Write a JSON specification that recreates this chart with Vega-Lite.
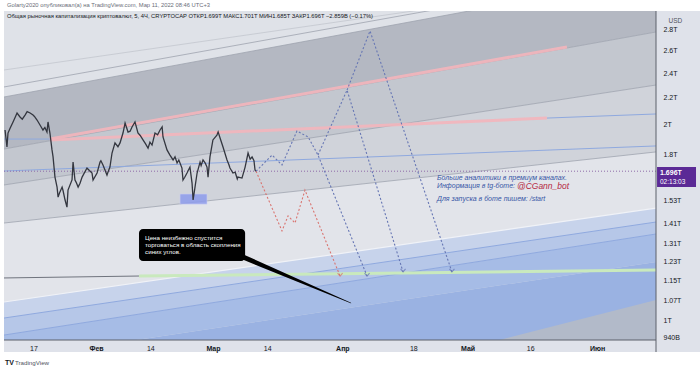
{
"$schema": "https://vega.github.io/schema/vega-lite/v6.json",
"width": 652, "height": 329,
"autosize": {"type": "none"},
"padding": {"left": 4, "top": 11, "right": 44, "bottom": 31},
"background": "#ffffff",
"config": {"view": {"fill": "#dfe2e8", "stroke": null}, "font": "Liberation Sans"},
"resolve": {"axis": {"x": "independent", "y": "independent"}},
"datasets": {
"bands": [
{"band":"D","t":"2022-01-09T23:00:00Z","v":1.835,"v2":2.207},{"band":"D","t":"2022-06-15T03:00:00Z","v":2.780,"v2":3.386},
{"band":"M1","t":"2022-01-09T23:00:00Z","v":1.615,"v2":1.835},{"band":"M1","t":"2022-06-15T03:00:00Z","v":2.303,"v2":2.780},
{"band":"M2","t":"2022-01-09T23:00:00Z","v":1.411,"v2":1.615},{"band":"M2","t":"2022-06-15T03:00:00Z","v":1.816,"v2":2.303},
{"band":"L","t":"2022-01-09T23:00:00Z","v":1.066,"v2":1.411},{"band":"L","t":"2022-06-15T03:00:00Z","v":1.488,"v2":1.816},
{"band":"B1","t":"2022-01-09T23:00:00Z","v":1.007,"v2":1.066},{"band":"B1","t":"2022-06-15T03:00:00Z","v":1.416,"v2":1.488},
{"band":"B2","t":"2022-01-09T23:00:00Z","v":0.948,"v2":1.007},{"band":"B2","t":"2022-06-15T03:00:00Z","v":1.357,"v2":1.416},
{"band":"B3","t":"2022-01-09T23:00:00Z","v":0.868,"v2":0.948},{"band":"B3","t":"2022-06-15T03:00:00Z","v":1.229,"v2":1.357},
{"band":"B4","t":"2022-01-09T23:00:00Z","v":0.8,"v2":0.868},{"band":"B4","t":"2022-06-15T03:00:00Z","v":0.8,"v2":1.229}
],
"br": [
{"t":"2022-05-03T23:00:00Z","v":0.8,"v2":0.915},{"t":"2022-06-15T03:00:00Z","v":0.8,"v2":1.074}
],
"segs": [
{"id":"g0a","kind":"lightgrey","t":"2022-01-09T23:00:00Z","v":2.429},{"id":"g0a","kind":"lightgrey","t":"2022-06-15T03:00:00Z","v":3.391},
{"id":"g0b","kind":"grey","t":"2022-01-09T23:00:00Z","v":2.287},{"id":"g0b","kind":"grey","t":"2022-06-15T03:00:00Z","v":3.464},
{"id":"g0c","kind":"grey","t":"2022-01-09T23:00:00Z","v":2.207},{"id":"g0c","kind":"grey","t":"2022-06-15T03:00:00Z","v":3.386},
{"id":"gT1","kind":"grey","t":"2022-01-09T23:00:00Z","v":1.835},{"id":"gT1","kind":"grey","t":"2022-06-15T03:00:00Z","v":2.780},
{"id":"gT2","kind":"grey","t":"2022-01-09T23:00:00Z","v":1.615},{"id":"gT2","kind":"grey","t":"2022-06-15T03:00:00Z","v":2.303},
{"id":"gU","kind":"grey","t":"2022-01-09T23:00:00Z","v":1.411},{"id":"gU","kind":"grey","t":"2022-06-15T03:00:00Z","v":1.816},
{"id":"wL1","kind":"white","t":"2022-01-09T23:00:00Z","v":1.066},{"id":"wL1","kind":"white","t":"2022-06-15T03:00:00Z","v":1.488},
{"id":"b1","kind":"blue","t":"2022-01-09T23:00:00Z","v":1.901},{"id":"b1","kind":"blue","t":"2022-01-20T23:00:00Z","v":1.901},
{"id":"b2","kind":"blue","t":"2022-01-09T23:00:00Z","v":1.697},{"id":"b2","kind":"blue","t":"2022-06-15T03:00:00Z","v":1.855},
{"id":"b3","kind":"blue","t":"2022-05-20T00:00:00Z","v":2.048},{"id":"b3","kind":"blue","t":"2022-06-15T03:00:00Z","v":2.078},
{"id":"bL2","kind":"blue","t":"2022-01-09T23:00:00Z","v":1.007},{"id":"bL2","kind":"blue","t":"2022-06-15T03:00:00Z","v":1.416},
{"id":"bL3","kind":"blue","t":"2022-01-09T23:00:00Z","v":0.948},{"id":"bL3","kind":"blue","t":"2022-06-15T03:00:00Z","v":1.357},
{"id":"p1","kind":"pink","t":"2022-01-20T23:00:00Z","v":1.901},{"id":"p1","kind":"pink","t":"2022-05-24T19:00:00Z","v":2.636},
{"id":"p2","kind":"pink","t":"2022-01-20T23:00:00Z","v":1.895},{"id":"p2","kind":"pink","t":"2022-05-20T00:00:00Z","v":2.048},
{"id":"gr","kind":"green","t":"2022-02-11T07:00:00Z","v":1.169},{"id":"gr","kind":"green","t":"2022-06-15T03:00:00Z","v":1.194},
{"id":"dk","kind":"dark","t":"2022-01-09T23:00:00Z","v":1.161},{"id":"dk","kind":"dark","t":"2022-02-11T07:00:00Z","v":1.169},
{"id":"ptr","kind":"pointer","t":"2022-03-08T05:00:00Z","v":1.2506},{"id":"ptr","kind":"pointer","t":"2022-04-03T01:00:00Z","v":1.0622}
],
"price": [
{"t":"2022-01-10T05:00:00Z","v":1.963},{"t":"2022-01-10T16:00:00Z","v":1.848},{"t":"2022-01-10T22:00:00Z","v":1.942},
{"t":"2022-01-11T10:00:00Z","v":1.975},{"t":"2022-01-12T03:00:00Z","v":2.020},{"t":"2022-01-12T14:00:00Z","v":2.050},
{"t":"2022-01-13T02:00:00Z","v":2.085},{"t":"2022-01-13T19:00:00Z","v":2.056},{"t":"2022-01-14T08:00:00Z","v":2.040},
{"t":"2022-01-15T00:00:00Z","v":2.070},{"t":"2022-01-15T12:00:00Z","v":2.095},{"t":"2022-01-16T05:00:00Z","v":2.085},
{"t":"2022-01-16T22:00:00Z","v":2.070},{"t":"2022-01-17T06:00:00Z","v":2.060},{"t":"2022-01-17T21:00:00Z","v":2.034},
{"t":"2022-01-18T14:00:00Z","v":1.998},{"t":"2022-01-19T07:00:00Z","v":1.963},{"t":"2022-01-19T18:00:00Z","v":1.980},
{"t":"2022-01-20T06:00:00Z","v":1.949},{"t":"2022-01-20T12:00:00Z","v":2.020},{"t":"2022-01-20T23:00:00Z","v":1.942},
{"t":"2022-01-21T11:00:00Z","v":1.829},{"t":"2022-01-21T17:00:00Z","v":1.784},{"t":"2022-01-22T04:00:00Z","v":1.661},
{"t":"2022-01-22T16:00:00Z","v":1.603},{"t":"2022-01-22T22:00:00Z","v":1.547},{"t":"2022-01-23T06:00:00Z","v":1.570},
{"t":"2022-01-23T21:00:00Z","v":1.603},{"t":"2022-01-24T02:00:00Z","v":1.585},{"t":"2022-01-24T14:00:00Z","v":1.531},
{"t":"2022-01-25T01:00:00Z","v":1.493},{"t":"2022-01-25T07:00:00Z","v":1.586},{"t":"2022-01-26T06:00:00Z","v":1.644},
{"t":"2022-01-26T12:00:00Z","v":1.752},{"t":"2022-01-26T23:00:00Z","v":1.644},{"t":"2022-01-27T06:00:00Z","v":1.630},
{"t":"2022-01-27T17:00:00Z","v":1.603},{"t":"2022-01-28T04:00:00Z","v":1.625},{"t":"2022-01-28T16:00:00Z","v":1.661},
{"t":"2022-01-29T20:00:00Z","v":1.715},{"t":"2022-01-30T10:00:00Z","v":1.700},{"t":"2022-01-31T01:00:00Z","v":1.685},
{"t":"2022-01-31T07:00:00Z","v":1.644},{"t":"2022-02-01T06:00:00Z","v":1.685},{"t":"2022-02-01T23:00:00Z","v":1.752},
{"t":"2022-02-02T04:00:00Z","v":1.760},{"t":"2022-02-02T16:00:00Z","v":1.734},{"t":"2022-02-03T15:00:00Z","v":1.673},
{"t":"2022-02-03T21:00:00Z","v":1.691},{"t":"2022-02-04T08:00:00Z","v":1.721},{"t":"2022-02-04T20:00:00Z","v":1.809},
{"t":"2022-02-05T13:00:00Z","v":1.875},{"t":"2022-02-06T06:00:00Z","v":1.850},{"t":"2022-02-06T18:00:00Z","v":1.875},
{"t":"2022-02-07T11:00:00Z","v":1.942},{"t":"2022-02-07T23:00:00Z","v":2.012},{"t":"2022-02-08T16:00:00Z","v":1.949},
{"t":"2022-02-09T04:00:00Z","v":1.955},{"t":"2022-02-09T15:00:00Z","v":1.984},{"t":"2022-02-10T08:00:00Z","v":2.020},
{"t":"2022-02-11T01:00:00Z","v":1.942},{"t":"2022-02-11T14:00:00Z","v":1.925},{"t":"2022-02-12T06:00:00Z","v":1.895},
{"t":"2022-02-12T20:00:00Z","v":1.870},{"t":"2022-02-13T11:00:00Z","v":1.841},{"t":"2022-02-13T22:00:00Z","v":1.880},
{"t":"2022-02-14T10:00:00Z","v":1.861},{"t":"2022-02-15T03:00:00Z","v":1.942},{"t":"2022-02-15T18:00:00Z","v":1.930},
{"t":"2022-02-16T08:00:00Z","v":1.963},{"t":"2022-02-16T20:00:00Z","v":1.985},{"t":"2022-02-17T01:00:00Z","v":1.915},
{"t":"2022-02-18T00:00:00Z","v":1.829},{"t":"2022-02-18T17:00:00Z","v":1.796},{"t":"2022-02-19T11:00:00Z","v":1.765},
{"t":"2022-02-19T22:00:00Z","v":1.785},{"t":"2022-02-20T10:00:00Z","v":1.746},{"t":"2022-02-20T20:00:00Z","v":1.765},
{"t":"2022-02-21T14:00:00Z","v":1.715},{"t":"2022-02-21T20:00:00Z","v":1.644},{"t":"2022-02-22T06:00:00Z","v":1.660},
{"t":"2022-02-22T19:00:00Z","v":1.685},{"t":"2022-02-23T02:00:00Z","v":1.700},{"t":"2022-02-23T12:00:00Z","v":1.721},
{"t":"2022-02-24T00:00:00Z","v":1.626},{"t":"2022-02-24T06:00:00Z","v":1.531},{"t":"2022-02-24T17:00:00Z","v":1.603},
{"t":"2022-02-25T05:00:00Z","v":1.685},{"t":"2022-02-25T22:00:00Z","v":1.752},{"t":"2022-02-26T04:00:00Z","v":1.730},
{"t":"2022-02-26T15:00:00Z","v":1.765},{"t":"2022-02-27T04:00:00Z","v":1.745},{"t":"2022-02-27T14:00:00Z","v":1.721},
{"t":"2022-02-27T20:00:00Z","v":1.661},{"t":"2022-02-28T07:00:00Z","v":1.784},{"t":"2022-03-01T00:00:00Z","v":1.895},
{"t":"2022-03-01T23:00:00Z","v":1.928},{"t":"2022-03-02T06:00:00Z","v":1.950},{"t":"2022-03-02T17:00:00Z","v":1.908},
{"t":"2022-03-03T10:00:00Z","v":1.848},{"t":"2022-03-04T09:00:00Z","v":1.765},{"t":"2022-03-04T20:00:00Z","v":1.735},
{"t":"2022-03-05T02:00:00Z","v":1.715},{"t":"2022-03-05T19:00:00Z","v":1.685},{"t":"2022-03-06T08:00:00Z","v":1.690},
{"t":"2022-03-06T20:00:00Z","v":1.650},{"t":"2022-03-07T00:00:00Z","v":1.661},{"t":"2022-03-07T23:00:00Z","v":1.655},
{"t":"2022-03-08T06:00:00Z","v":1.680},{"t":"2022-03-08T17:00:00Z","v":1.721},{"t":"2022-03-09T10:00:00Z","v":1.809},
{"t":"2022-03-09T22:00:00Z","v":1.770},{"t":"2022-03-10T09:00:00Z","v":1.784},{"t":"2022-03-10T20:00:00Z","v":1.760},
{"t":"2022-03-11T02:00:00Z","v":1.703},{"t":"2022-03-11T08:00:00Z","v":1.696}
],
"proj": [
{"path":"r","kind":"red","t":"2022-03-11T08:00:00Z","v":1.696},{"path":"r","kind":"red","t":"2022-03-17T13:00:00Z","v":1.372},
{"path":"r","kind":"red","t":"2022-03-19T00:00:00Z","v":1.447},{"path":"r","kind":"red","t":"2022-03-20T16:00:00Z","v":1.411},
{"path":"r","kind":"red","t":"2022-03-23T01:00:00Z","v":1.586},{"path":"r","kind":"red","t":"2022-03-31T11:00:00Z","v":1.169},
{"path":"b1","kind":"blue","t":"2022-03-11T08:00:00Z","v":1.696},{"path":"b1","kind":"blue","t":"2022-03-15T04:00:00Z","v":1.796},
{"path":"b1","kind":"blue","t":"2022-03-17T13:00:00Z","v":1.734},{"path":"b1","kind":"blue","t":"2022-03-21T03:00:00Z","v":1.956},
{"path":"b1","kind":"blue","t":"2022-03-23T19:00:00Z","v":1.915},{"path":"b1","kind":"blue","t":"2022-03-26T04:00:00Z","v":1.796},
{"path":"b1","kind":"blue","t":"2022-04-06T22:00:00Z","v":1.169},
{"path":"b2","kind":"blue","t":"2022-03-26T04:00:00Z","v":1.796},{"path":"b2","kind":"blue","t":"2022-04-02T03:00:00Z","v":2.262},
{"path":"b2","kind":"blue","t":"2022-04-15T13:00:00Z","v":1.186},
{"path":"b3","kind":"blue","t":"2022-04-02T03:00:00Z","v":2.262},{"path":"b3","kind":"blue","t":"2022-04-07T15:00:00Z","v":2.790},
{"path":"b3","kind":"blue","t":"2022-04-27T06:00:00Z","v":1.186}
],
"arrows": [
{"kind":"red","t":"2022-03-31T11:00:00Z","v":1.169},
{"kind":"blue","t":"2022-04-06T22:00:00Z","v":1.169},
{"kind":"blue","t":"2022-04-15T13:00:00Z","v":1.186},
{"kind":"blue","t":"2022-04-27T06:00:00Z","v":1.186}
]
},
"layer": [
{"data":{"name":"bands"},"mark":{"type":"area","clip":true},
 "encoding":{
  "x":{"field":"t","type":"temporal","scale":{"type":"utc","domain":[{"year":2022,"month":1,"date":9,"hours":23,"utc":true},{"year":2022,"month":6,"date":15,"hours":3,"utc":true}],"nice":false},"axis":null},
  "y":{"field":"v","type":"quantitative","scale":{"type":"log","domain":[0.9315,2.995],"nice":false},"axis":null},
  "y2":{"field":"v2"},
  "color":{"field":"band","type":"nominal","scale":{"domain":["D","M1","M2","L","B1","B2","B3","B4"],"range":["#b4b8c2","#c3c7cf","#d0d3da","#e2e4ea","#c7d3eb","#b6c7e8","#a6bce6","#9ab2e2"]},"legend":null}}},
{"data":{"name":"br"},"mark":{"type":"area","clip":true,"color":"#b2bac9"},
 "encoding":{"x":{"field":"t","type":"temporal","axis":null},"y":{"field":"v","type":"quantitative","axis":null},"y2":{"field":"v2"}}},
{"data":{"name":"segs"},"transform":[{"filter":"datum.kind == 'lightgrey'"}],"mark":{"type":"line","clip":true,"color":"#c3c6ce","strokeWidth":0.8},
 "encoding":{"x":{"field":"t","type":"temporal","axis":null},"y":{"field":"v","type":"quantitative","axis":null},"detail":{"field":"id"}}},
{"data":{"name":"segs"},"transform":[{"filter":"datum.kind == 'grey'"}],"mark":{"type":"line","clip":true,"color":"#9ea3ae","strokeWidth":0.8},
 "encoding":{"x":{"field":"t","type":"temporal","axis":null},"y":{"field":"v","type":"quantitative","axis":null},"detail":{"field":"id"}}},
{"data":{"name":"segs"},"transform":[{"filter":"datum.kind == 'white'"}],"mark":{"type":"line","clip":true,"color":"#f0f2f7","strokeWidth":1.2},
 "encoding":{"x":{"field":"t","type":"temporal","axis":null},"y":{"field":"v","type":"quantitative","axis":null},"detail":{"field":"id"}}},
{"data":{"name":"segs"},"transform":[{"filter":"datum.kind == 'blue'"}],"mark":{"type":"line","clip":true,"color":"#8fa9df","strokeWidth":1},
 "encoding":{"x":{"field":"t","type":"temporal","axis":null},"y":{"field":"v","type":"quantitative","axis":null},"detail":{"field":"id"}}},
{"data":{"name":"segs"},"transform":[{"filter":"datum.kind == 'pink'"}],"mark":{"type":"line","clip":true,"color":"#f3b5bb","strokeWidth":3,"opacity":0.9},
 "encoding":{"x":{"field":"t","type":"temporal","axis":null},"y":{"field":"v","type":"quantitative","axis":null},"detail":{"field":"id"}}},
{"data":{"name":"segs"},"transform":[{"filter":"datum.kind == 'green'"}],"mark":{"type":"line","clip":true,"color":"#c9e9bd","strokeWidth":3},
 "encoding":{"x":{"field":"t","type":"temporal","axis":null},"y":{"field":"v","type":"quantitative","axis":null},"detail":{"field":"id"}}},
{"data":{"name":"segs"},"transform":[{"filter":"datum.kind == 'dark'"}],"mark":{"type":"line","clip":true,"color":"#6f737d","strokeWidth":1},
 "encoding":{"x":{"field":"t","type":"temporal","axis":null},"y":{"field":"v","type":"quantitative","axis":null},"detail":{"field":"id"}}},
{"data":{"values":[{}]},"mark":{"type":"rule","color":"#8f6aa8","strokeDash":[1,2],"strokeWidth":1},
 "encoding":{"y":{"datum":1.696,"type":"quantitative","axis":null}}},
{"data":{"values":[{}]},"mark":{"type":"rect","color":"#8e9cec","opacity":0.85,"stroke":"#c9cff5","strokeWidth":0.6},
 "encoding":{"x":{"datum":{"year":2022,"month":2,"date":21,"hours":3,"utc":true},"type":"temporal","axis":null},"x2":{"datum":{"year":2022,"month":2,"date":27,"hours":14,"utc":true}},
  "y":{"datum":1.564,"type":"quantitative","axis":null},"y2":{"datum":1.509}}},
{"data":{"name":"price"},"mark":{"type":"line","color":"#33363f","strokeWidth":1.3,"clip":true},
 "encoding":{"x":{"field":"t","type":"temporal","axis":null},"y":{"field":"v","type":"quantitative","axis":null}}},
{"data":{"name":"proj"},"transform":[{"filter":"datum.kind == 'red'"}],"mark":{"type":"line","color":"#d9736f","strokeWidth":1.1,"strokeDash":[2,2]},
 "encoding":{"x":{"field":"t","type":"temporal","axis":null},"y":{"field":"v","type":"quantitative","axis":null},"detail":{"field":"path"}}},
{"data":{"name":"proj"},"transform":[{"filter":"datum.kind == 'blue'"}],"mark":{"type":"line","color":"#6676b4","strokeWidth":1.1,"strokeDash":[2,2]},
 "encoding":{"x":{"field":"t","type":"temporal","axis":null},"y":{"field":"v","type":"quantitative","axis":null},"detail":{"field":"path"}}},
{"data":{"name":"arrows"},"transform":[{"filter":"datum.kind == 'red'"}],"mark":{"type":"point","shape":"M-1,-1.2L0,0L1,-1.2","filled":false,"size":25,"strokeWidth":1.1,"color":"#d9736f"},
 "encoding":{"x":{"field":"t","type":"temporal","axis":null},"y":{"field":"v","type":"quantitative","axis":null}}},
{"data":{"name":"arrows"},"transform":[{"filter":"datum.kind == 'blue'"}],"mark":{"type":"point","shape":"M-1,-1.2L0,0L1,-1.2","filled":false,"size":25,"strokeWidth":1.1,"color":"#6676b4"},
 "encoding":{"x":{"field":"t","type":"temporal","axis":null},"y":{"field":"v","type":"quantitative","axis":null}}},
{"data":{"name":"segs"},"transform":[{"filter":"datum.kind == 'pointer'"}],"mark":{"type":"trail","color":"#000000"},
 "encoding":{"x":{"field":"t","type":"temporal","axis":null},"y":{"field":"v","type":"quantitative","axis":null},
  "size":{"field":"t","type":"temporal","scale":{"range":[5,0.6]},"legend":null}}},
{"data":{"values":[{}]},"mark":{"type":"rect","color":"#000000","cornerRadius":4},
 "encoding":{"x":{"datum":{"year":2022,"month":2,"date":11,"hours":7,"utc":true},"type":"temporal","axis":null},"x2":{"datum":{"year":2022,"month":3,"date":8,"hours":17,"utc":true}},
  "y":{"datum":1.381,"type":"quantitative","axis":null},"y2":{"datum":1.233}}},
{"data":{"values":[{}]},"mark":{"type":"text","color":"#ffffff","align":"left","baseline":"top","fontSize":6.2,"lineHeight":7},
 "encoding":{"x":{"datum":{"year":2022,"month":2,"date":12,"hours":18,"utc":true},"type":"temporal","axis":null},"y":{"datum":1.352,"type":"quantitative","axis":null},
  "text":{"value":["Цена неизбежно спустится","торговаться в область скопления","синих углов."]}}},
{"data":{"values":[{}]},"mark":{"type":"text","color":"#3656a6","align":"left","baseline":"middle","fontSize":7,"fontStyle":"italic"},
 "encoding":{"x":{"datum":{"year":2022,"month":4,"date":23,"hours":16,"utc":true},"type":"temporal","axis":null},"y":{"datum":1.655,"type":"quantitative","axis":null},
  "text":{"value":"Больше аналитики в премиум каналах."}}},
{"data":{"values":[{}]},"mark":{"type":"text","color":"#3656a6","align":"left","baseline":"middle","fontSize":7,"fontStyle":"italic"},
 "encoding":{"x":{"datum":{"year":2022,"month":4,"date":23,"hours":16,"utc":true},"type":"temporal","axis":null},"y":{"datum":1.609,"type":"quantitative","axis":null},
  "text":{"value":"Информация в tg-боте:"}}},
{"data":{"values":[{}]},"mark":{"type":"text","color":"#b5283f","align":"left","baseline":"middle","fontSize":8.5,"fontStyle":"italic"},
 "encoding":{"x":{"datum":{"year":2022,"month":5,"date":12,"hours":20,"utc":true},"type":"temporal","axis":null},"y":{"datum":1.609,"type":"quantitative","axis":null},
  "text":{"value":"@CGann_bot"}}},
{"data":{"values":[{}]},"mark":{"type":"text","color":"#3656a6","align":"left","baseline":"middle","fontSize":7,"fontStyle":"italic"},
 "encoding":{"x":{"datum":{"year":2022,"month":4,"date":23,"hours":16,"utc":true},"type":"temporal","axis":null},"y":{"datum":1.5365,"type":"quantitative","axis":null},
  "text":{"value":"Для запуска в боте пишем: /start"}}},
{"data":{"values":[{}]},"mark":{"type":"rect","color":"#dfe2ea"},
 "encoding":{"x":{"datum":{"year":2022,"month":1,"date":9,"hours":23,"utc":true},"type":"temporal","axis":null},"x2":{"datum":{"year":2022,"month":6,"date":15,"hours":3,"utc":true}},
  "y":{"datum":0.9315,"type":"quantitative","axis":null},"y2":{"datum":0.8926}}},
{"data":{"values":[{}]},"mark":{"type":"rect","color":"#dfe2ea"},
 "encoding":{"x":{"datum":{"year":2022,"month":6,"date":15,"hours":3,"utc":true},"type":"temporal","axis":null},"x2":{"datum":{"year":2022,"month":7,"date":5,"utc":true}},
  "y":{"datum":2.995,"type":"quantitative","axis":null},"y2":{"datum":0.8926}}},
{"data":{"values":[{}]},"mark":{"type":"rule","color":"#5d606b","strokeWidth":1},
 "encoding":{"x":{"datum":{"year":2022,"month":6,"date":15,"hours":3,"utc":true},"type":"temporal","axis":null},
  "y":{"datum":2.995,"type":"quantitative","axis":null},"y2":{"datum":0.8926}}},
{"data":{"values":[{}]},"mark":{"type":"rule","color":"#5d606b","strokeWidth":1},
 "encoding":{"y":{"datum":0.9315,"type":"quantitative","axis":null}}},
{"data":{"values":[{}]},"mark":{"type":"rect","color":"#5b2a96"},
 "encoding":{"x":{"datum":{"year":2022,"month":6,"date":15,"hours":9,"utc":true},"type":"temporal","axis":null},"x2":{"datum":{"year":2022,"month":6,"date":24,"hours":17,"utc":true}},
  "y":{"datum":1.721,"type":"quantitative","axis":null},"y2":{"datum":1.6034}}},
{"data":{"values":[{}]},"mark":{"type":"text","color":"#ffffff","align":"left","baseline":"middle","fontSize":7,"fontWeight":"bold"},
 "encoding":{"x":{"datum":{"year":2022,"month":6,"date":16,"hours":2,"utc":true},"type":"temporal","axis":null},"y":{"datum":1.688,"type":"quantitative","axis":null},
  "text":{"value":"1.696T"}}},
{"data":{"values":[{}]},"mark":{"type":"text","color":"#ffffff","align":"left","baseline":"middle","fontSize":6.5},
 "encoding":{"x":{"datum":{"year":2022,"month":6,"date":16,"hours":2,"utc":true},"type":"temporal","axis":null},"y":{"datum":1.635,"type":"quantitative","axis":null},
  "text":{"value":"02:13:03"}}},
{"data":{"values":[{}]},"mark":{"type":"text","color":"#6a6d78","align":"left","baseline":"middle","fontSize":5.8,"dx":3},
 "encoding":{"x":{"datum":{"year":2022,"month":1,"date":9,"hours":23,"utc":true},"type":"temporal","axis":null},"y":{"datum":3.059,"type":"quantitative","axis":null},
  "text":{"value":"Golarty2020 опубликовал(а) на TradingView.com, Мар 11, 2022 08:46 UTC+3"}}},
{"data":{"values":[{}]},"mark":{"type":"text","color":"#131722","align":"left","baseline":"middle","fontSize":5.8,"dx":3},
 "encoding":{"x":{"datum":{"year":2022,"month":1,"date":9,"hours":23,"utc":true},"type":"temporal","axis":null},"y":{"datum":2.942,"type":"quantitative","axis":null},
  "text":{"value":"Общая рыночная капитализация криптовалют, 5, 4Ч, CRYPTOCAP  ОТКР1.699T  МАКС1.701T  МИН1.685T  ЗАКР1.696T  −2.859B (−0.17%)"}}},
{"data":{"values":[{}]},"mark":{"type":"text","color":"#131722","align":"left","baseline":"middle","fontSize":7,"fontWeight":"bold","dx":1},
 "encoding":{"x":{"datum":{"year":2022,"month":1,"date":9,"hours":23,"utc":true},"type":"temporal","axis":null},"y":{"datum":0.8585,"type":"quantitative","axis":null},
  "text":{"value":"TV"}}},
{"data":{"values":[{}]},"mark":{"type":"text","color":"#50535e","align":"left","baseline":"middle","fontSize":6.2,"dx":11},
 "encoding":{"x":{"datum":{"year":2022,"month":1,"date":9,"hours":23,"utc":true},"type":"temporal","axis":null},"y":{"datum":0.8585,"type":"quantitative","axis":null},
  "text":{"value":"TradingView"}}},
{"data":{"name":"arrows"},"mark":{"type":"point","opacity":0},
 "encoding":{
  "x":{"field":"t","type":"temporal",
   "axis":{"orient":"bottom","title":null,"values":[{"year":2022,"month":1,"date":17,"utc":true},{"year":2022,"month":2,"date":1,"utc":true},{"year":2022,"month":2,"date":14,"utc":true},{"year":2022,"month":3,"date":1,"utc":true},{"year":2022,"month":3,"date":14,"utc":true},{"year":2022,"month":4,"date":1,"utc":true},{"year":2022,"month":4,"date":18,"utc":true},{"year":2022,"month":5,"date":1,"utc":true},{"year":2022,"month":5,"date":16,"utc":true},{"year":2022,"month":6,"date":1,"utc":true}],
    "labelExpr":"utcdate(datum.value) == 1 ? ['Янв','Фев','Мар','Апр','Май','Июн'][utcmonth(datum.value)] : '' + utcdate(datum.value)",
    "labelFontWeight":{"condition":{"test":"utcdate(datum.value) == 1","value":"bold"},"value":"normal"},
    "labelFontSize":7,"labelColor":"#131722","labelPadding":4,"ticks":false,"grid":false,"domain":false,"zindex":2,"labelOverlap":false,"labelFlush":false}},
  "y":{"field":"v","type":"quantitative",
   "axis":{"orient":"right","title":"USD","titleAngle":0,"titleX":12,"titleY":9,"titleAlign":"left","titleBaseline":"middle","titleFontSize":6.5,"titleFontWeight":"normal","titleColor":"#50535e",
    "values":[0.94,1,1.07,1.15,1.23,1.31,1.41,1.53,1.8,2,2.2,2.4,2.6,2.8],
    "labelExpr":"datum.value < 1 ? '940B' : datum.value + 'T'",
    "labelFontSize":7,"labelColor":"#131722","labelPadding":7,"labelAlign":"left","labelBaseline":"middle","ticks":false,"grid":false,"domain":false,"zindex":2,"labelOverlap":false,"labelFlush":false}}}}
]
}
